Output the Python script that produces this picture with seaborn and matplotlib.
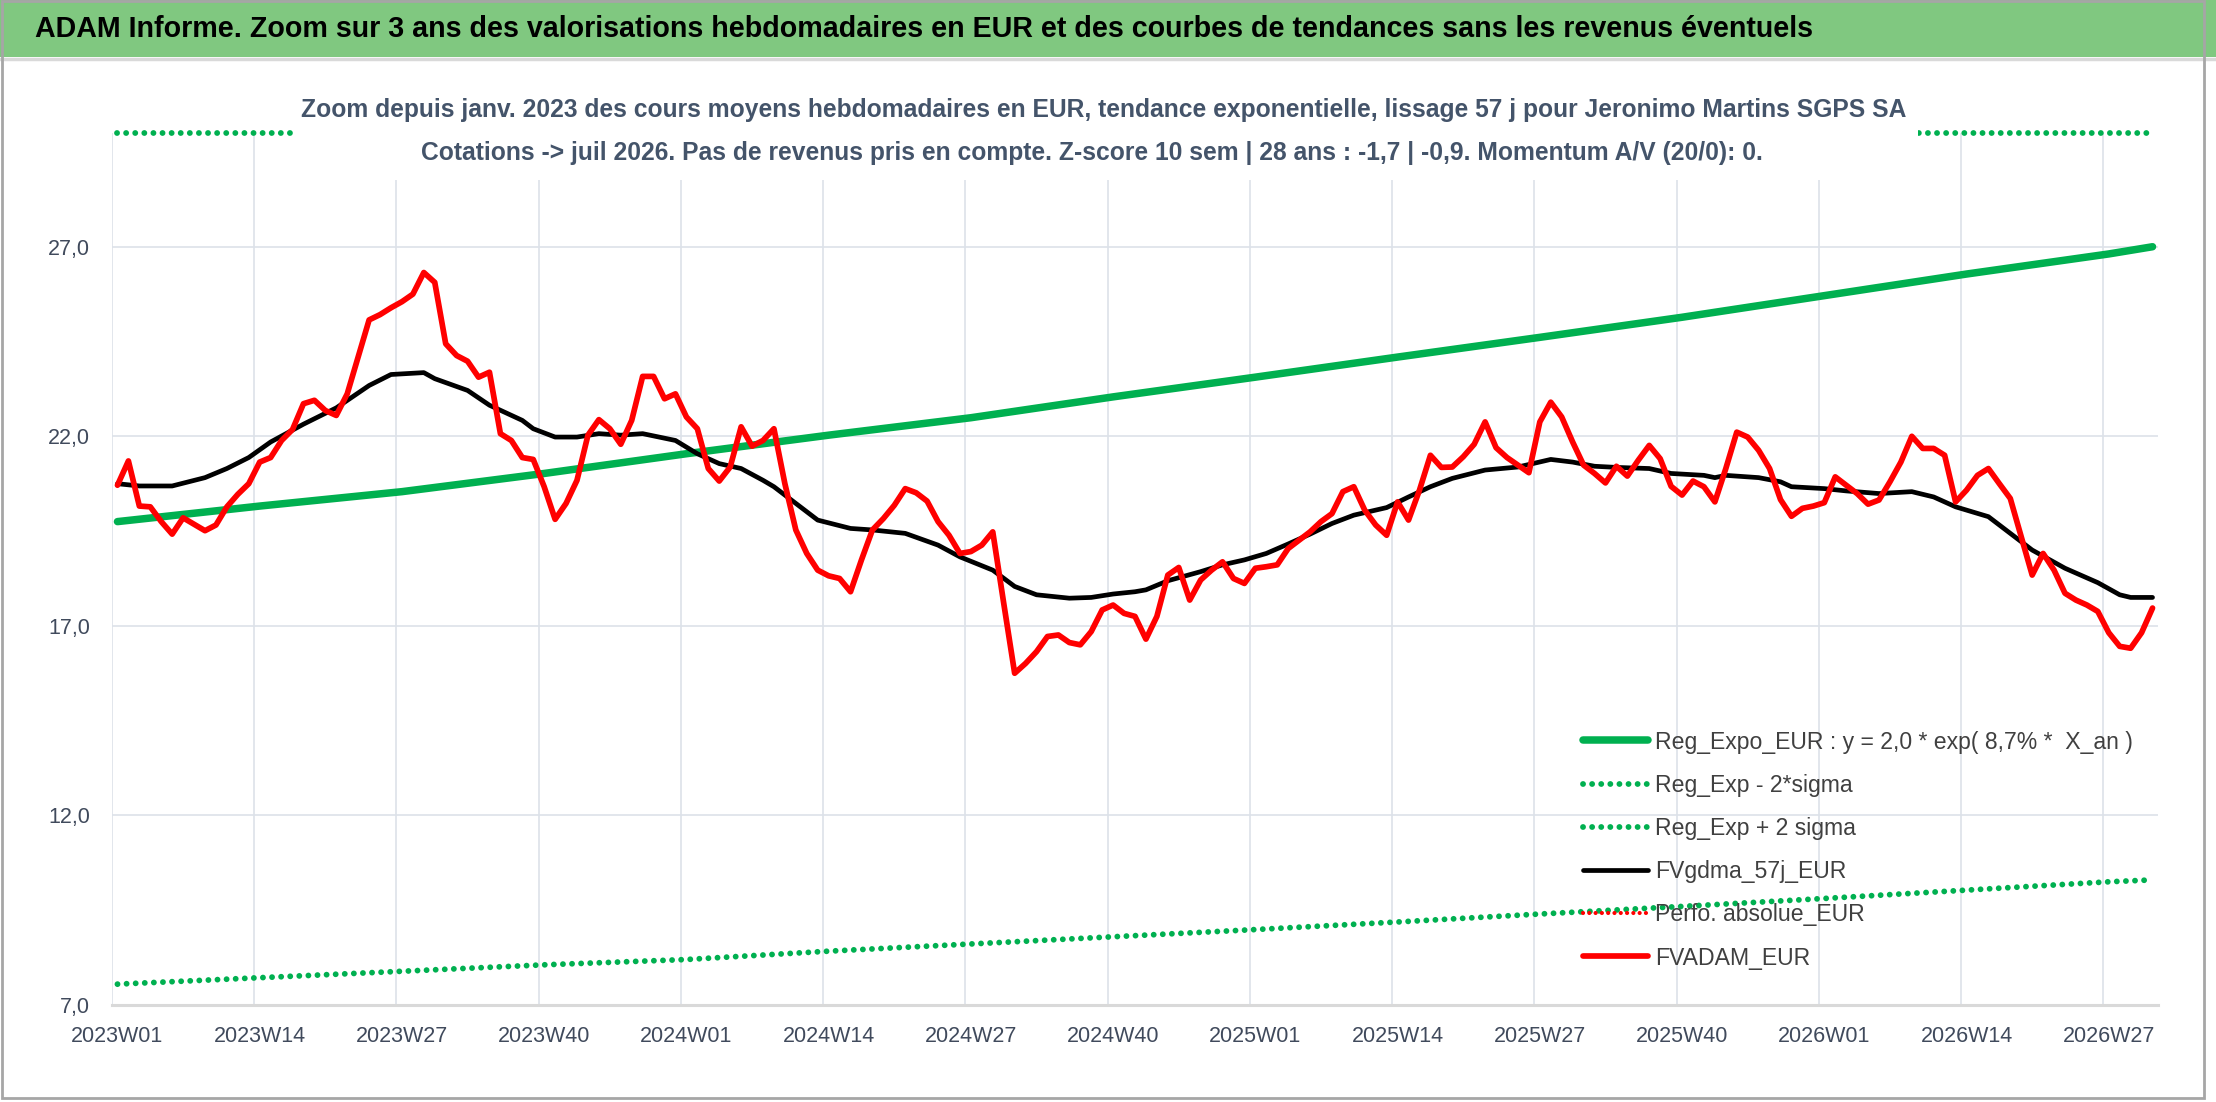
import numpy as np
import pandas as pd
import matplotlib.pyplot as plt
import seaborn as sns
from matplotlib.patches import Rectangle
from matplotlib.lines import Line2D

# --- data (weekly points, index 0 = 2023W01) ---
week_labels = ['2023W01', '2023W14', '2023W27', '2023W40', '2024W01', '2024W14', '2024W27',
               '2024W40', '2025W01', '2025W14', '2025W27', '2025W40', '2026W01', '2026W14',
               '2026W27']
y_ticks = [7, 12, 17, 22, 27]
y_labels = ['7,0', '12,0', '17,0', '22,0', '27,0']

fvadam = [20.71, 21.35, 20.16, 20.14, 19.75, 19.42, 19.85, 19.68, 19.51, 19.66,
          20.14, 20.47, 20.75, 21.32, 21.44, 21.89, 22.18, 22.86, 22.95, 22.68,
          22.55, 23.12, 24.09, 25.07, 25.21, 25.39, 25.55, 25.75, 26.32, 26.06,
          24.44, 24.13, 23.98, 23.56, 23.69, 22.07, 21.89, 21.44, 21.39, 20.67,
          19.81, 20.23, 20.84, 22.03, 22.44, 22.20, 21.79, 22.42, 23.58, 23.58,
          22.99, 23.12, 22.51, 22.20, 21.15, 20.82, 21.19, 22.25, 21.74, 21.89,
          22.20, 20.75, 19.53, 18.91, 18.47, 18.32, 18.25, 17.90, 18.74, 19.53,
          19.83, 20.18, 20.62, 20.51, 20.29, 19.75, 19.39, 18.91, 18.96, 19.13,
          19.48, 17.60, 15.75, 16.01, 16.32, 16.72, 16.76, 16.56, 16.50, 16.85,
          17.42, 17.55, 17.33, 17.25, 16.65, 17.25, 18.34, 18.54, 17.68, 18.21,
          18.47, 18.69, 18.25, 18.12, 18.52, 18.56, 18.61, 19.04, 19.26, 19.48,
          19.75, 19.96, 20.54, 20.67, 20.05, 19.66, 19.39, 20.27, 19.79, 20.58,
          21.50, 21.18, 21.19, 21.46, 21.79, 22.38, 21.70, 21.44, 21.24, 21.04,
          22.38, 22.90, 22.51, 21.85, 21.24, 21.02, 20.77, 21.21, 20.95, 21.37,
          21.76, 21.41, 20.68, 20.45, 20.82, 20.67, 20.27, 21.15, 22.11, 21.98,
          21.63, 21.15, 20.33, 19.89, 20.10, 20.16, 20.25, 20.93, 20.71, 20.49,
          20.21, 20.32, 20.80, 21.32, 22.00, 21.68, 21.68, 21.50, 20.27, 20.58,
          20.97, 21.15, 20.75, 20.36, 19.35, 18.34, 18.91, 18.47, 17.86, 17.68,
          17.55, 17.38, 16.82, 16.46, 16.41, 16.82, 17.47]

gdma_idx = [0, 2, 5, 8, 10, 12, 14, 17, 20, 23, 25, 28, 29, 32, 34, 37, 38, 40, 42, 44,
            46, 48, 51, 53, 55, 57, 59, 60, 62, 64, 67, 69, 72, 75, 77, 80, 82, 84, 87, 89,
            91, 93, 94, 96, 99, 101, 103, 105, 107, 109, 111, 113, 116, 118, 120, 122, 125,
            128, 131, 133, 135, 137, 140, 142, 145, 146, 147, 150, 152, 153, 156, 158, 161,
            164, 166, 168, 171, 173, 175, 178, 181, 183, 184, 186]
gdma_vals = [20.75, 20.69, 20.69, 20.91, 21.15, 21.44, 21.85, 22.32, 22.75, 23.34, 23.63,
             23.68, 23.52, 23.21, 22.82, 22.42, 22.20, 21.98, 21.98, 22.07, 22.03, 22.07,
             21.89, 21.54, 21.28, 21.15, 20.84, 20.67, 20.23, 19.79, 19.57, 19.53, 19.44,
             19.13, 18.82, 18.47, 18.04, 17.82, 17.73, 17.75, 17.84, 17.90, 17.95, 18.19,
             18.43, 18.61, 18.74, 18.91, 19.16, 19.42, 19.70, 19.92, 20.12, 20.40, 20.67,
             20.89, 21.11, 21.19, 21.39, 21.32, 21.21, 21.18, 21.15, 21.02, 20.97, 20.91,
             20.97, 20.91, 20.80, 20.67, 20.62, 20.56, 20.49, 20.54, 20.40, 20.14, 19.88,
             19.44, 19.00, 18.52, 18.14, 17.82, 17.75, 17.75]

trend_idx = [0, 13, 26, 39, 52, 65, 78, 91, 104, 117, 130, 143, 156, 169, 182, 186]
trend_vals = [19.75, 20.16, 20.54, 21.02, 21.54, 22.03, 22.49, 23.04, 23.56, 24.09, 24.61,
              25.14, 25.71, 26.28, 26.81, 27.00]
lower_vals = [7.55, 7.72, 7.89, 8.06, 8.20, 8.42, 8.61, 8.80, 8.99, 9.19, 9.40, 9.60, 9.81,
              10.03, 10.25, 10.30]
# the +2 sigma band sits above the axis range: only its clipped part (at 30) shows
upper_idx = [0, 186]
upper_vals = [30.0, 30.0]

title_txt = ("ADAM Informe. Zoom sur 3 ans des valorisations hebdomadaires en EUR et des "
             "courbes de tendances sans les revenus éventuels")
sub1_txt = ("Zoom depuis janv. 2023 des cours moyens hebdomadaires en EUR, tendance "
            "exponentielle, lissage 57 j pour Jeronimo Martins SGPS SA")
sub2_txt = ("Cotations -> juil 2026. Pas de revenus pris en compte. Z-score 10 sem | 28 ans : "
            "-1,7 | -0,9. Momentum A/V (20/0): 0.")

# --- style ---
sns.set_theme(style="white")
plt.rcParams['font.family'] = ['Liberation Sans', 'DejaVu Sans']

W, H = 2216, 1102
fig = plt.figure(figsize=(W / 100, H / 100), dpi=100)
fig.patch.set_facecolor('white')
ax = fig.add_axes([112 / W, 1 - 1005 / H, (2158 - 112) / W, (1005 - 133) / H])
renderer = fig.canvas.get_renderer()

x_red = np.arange(len(fvadam)) + 0.5
dots = (0, (0.01, 1.55))

sns.lineplot(x=np.array(trend_idx) + 0.5, y=trend_vals, ax=ax, color='#00B050',
             linewidth=5.4, label='Reg_Expo_EUR : y = 2,0 * exp( 8,7% *  X_an )', zorder=3)
sns.lineplot(x=np.array(trend_idx) + 0.5, y=lower_vals, ax=ax, color='#00B050',
             linewidth=4.2, linestyle=dots, dash_capstyle='round',
             label='Reg_Exp - 2*sigma', zorder=3)
sns.lineplot(x=np.array(upper_idx) + 0.5, y=upper_vals, ax=ax, color='#00B050',
             linewidth=4.2, linestyle=dots, dash_capstyle='round',
             label='Reg_Exp + 2 sigma', zorder=3, clip_on=False)
sns.lineplot(x=np.array(gdma_idx) + 0.5, y=gdma_vals, ax=ax, color='black',
             linewidth=3.4, label='FVgdma_57j_EUR', zorder=4)
ax.plot([], [], color='red', linewidth=3.0, linestyle=(0, (0.01, 1.5)),
        dash_capstyle='round', label='Perfo. absolue_EUR')
sns.lineplot(x=x_red, y=fvadam, ax=ax, color='#FF0000', linewidth=4.1,
             label='FVADAM_EUR', zorder=5)

ax.set_xlim(0, 187)
ax.set_ylim(7, 30)
ax.set_yticks(y_ticks)
ax.set_yticklabels(y_labels)
tick_pos = np.arange(len(week_labels)) * 13
ax.set_xticks(tick_pos)
ax.set_xticklabels([])
ax.set_xticks(tick_pos + 0.5, minor=True)
ax.set_xticklabels(week_labels, minor=True)
ax.set_xlabel('')
ax.set_ylabel('')

ax.grid(True, which='major', color='#DDE2E9', linewidth=1.2)
ax.set_axisbelow(True)
for side in ['left', 'right', 'top']:
    ax.spines[side].set_visible(False)
ax.spines['bottom'].set_color('#D9D9D9')
ax.spines['bottom'].set_linewidth(2.2)

tick_color = '#404A5C'
ax.tick_params(axis='y', length=0, pad=16, labelsize=15.5, labelcolor=tick_color)
ax.tick_params(axis='x', which='major', length=6, width=1.1, color='#D9D9D9')
ax.tick_params(axis='x', which='minor', length=0, pad=15, labelsize=15.5,
               labelcolor=tick_color)

# legend: size its text to the reference width, then set the row pitch
handles, labels = ax.get_legend_handles_labels()
leg = ax.legend(handles, labels, fontsize=20)
w0 = leg.get_texts()[0].get_window_extent(renderer=renderer).width
leg_fs = 20 * 478 / w0
fs_px = leg_fs * 100 / 72
leg = ax.legend(handles, labels, fontsize=leg_fs)
text_h = leg.get_texts()[0].get_window_extent(renderer=renderer).height
leg = ax.legend(handles, labels, loc='upper left',
                bbox_to_anchor=(1583 / W, 1 - (742 - text_h / 2) / H),
                bbox_transform=fig.transFigure, frameon=False, fontsize=leg_fs,
                handlelength=65 / fs_px, handletextpad=7 / fs_px,
                labelspacing=(43.2 - text_h) / fs_px, borderpad=0, borderaxespad=0)
for t in leg.get_texts():
    t.set_color('#404040')

# --- header band, title box and frame ---
fig.add_artist(Rectangle((0, 1 - 57 / H), 1, 57 / H, transform=fig.transFigure,
                         facecolor='#80C880', edgecolor='none', zorder=1))
fig.add_artist(Line2D([0, 1], [1 - 59 / H] * 2, transform=fig.transFigure,
                      color='#D9D9D9', linewidth=2.5, zorder=1))
fig.add_artist(Rectangle((293 / W, 1 - 180 / H), (1918 - 293) / W, 110 / H,
                         transform=fig.transFigure, facecolor='white', edgecolor='none',
                         zorder=2))
fig.add_artist(Rectangle((0.001, 0.004), 2204 / W - 0.001, 0.995, transform=fig.transFigure,
                         fill=False, edgecolor='#A6A6A6', linewidth=2, zorder=6))


def fit_width(t, target_px):
    w = t.get_window_extent(renderer=renderer).width
    t.set_fontsize(t.get_fontsize() * target_px / w)


title = fig.text(35 / W, 1 - 37 / H, title_txt, ha='left', va='baseline', fontsize=21,
                 fontweight='bold', color='black', zorder=7)
fit_width(title, 1779)
sub1 = fig.text(1104 / W, 1 - 117 / H, sub1_txt, ha='center', va='baseline', fontsize=18,
                fontweight='bold', color='#44546A', zorder=7)
fit_width(sub1, 1608)
sub2 = fig.text(1092 / W, 1 - 160 / H, sub2_txt, ha='center', va='baseline',
                fontsize=sub1.get_fontsize(), fontweight='bold', color='#44546A', zorder=7)

fig.savefig('out.png', dpi=100, facecolor='white')
